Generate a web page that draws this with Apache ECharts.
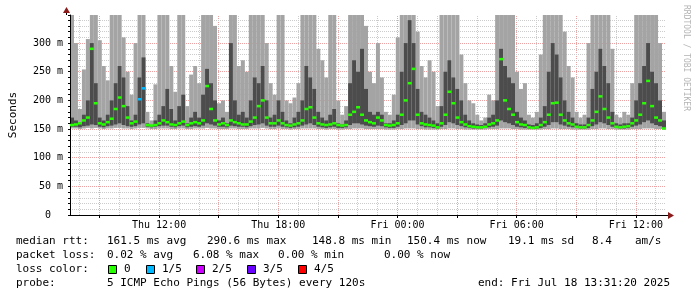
<!DOCTYPE html>
<html><head><meta charset="utf-8">
<script src="https://cdn.jsdelivr.net/npm/echarts@6/dist/echarts.min.js"></script>
<style>html,body{margin:0;padding:0;background:#fff}#c{width:697px;height:297px}</style>
</head><body><div id="c"></div>
<script>
// time axis: minutes since Thu 00:00
const startMinute = 451;       // ~Thu 07:31
const endMinute = 2251;        // Fri 13:31:20
const stepMinutes = 12;
const tickTimes = [720, 1080, 1440, 1800, 2160];
const tickLabels = ['Thu 12:00', 'Thu 18:00', 'Fri 00:00', 'Fri 06:00', 'Fri 12:00'];
const yLabelValues = [0, 50, 100, 150, 200, 250, 300];

// ping smoke (ms): min, 2nd, 4th, max ping per interval
const minPing = [151,151,150,151,152,151,152,151,150,151, 151,152,152,151,151,150,151,152,152,151,
  150,150,151,151,151,150,150,151,151,150, 150,151,151,151,152,151,151,150,150,150,
  151,151,150,150,150,151,151,151,152,151, 150,150,151,150,150,149,150,150,151,151,
  151,151,150,150,149,150,150,149,149,150, 150,151,151,151,150,150,150,150,150,149,
  149,149,150,150,151,151,151,150,150,149, 149,149,149,150,150,151,151,150,150,149,
  149,149,149,149,149,150,150,150,151,151, 151,150,150,149,149,149,149,149,149,150,
  150,151,151,150,150,150,149,149,149,149, 149,150,150,151,151,150,150,149,149,149,
  149,150,150,150,151,151,151,150,150,149];
const ping2 = [154,154,153,155,156,158,157,154,153,155, 156,158,160,157,155,154,155,158,160,154,
  153,154,155,156,156,154,153,155,156,153, 154,155,154,156,160,158,156,154,154,153,
  156,155,154,154,153,155,157,158,160,156, 154,154,156,154,153,152,153,154,156,158,
  160,157,154,153,152,153,154,152,152,153, 157,160,160,158,156,155,154,156,155,153,
  152,152,154,157,160,165,165,158,155,153, 153,152,151,154,157,162,160,157,155,153,
  152,151,151,151,152,153,154,156,165,162, 160,157,154,153,152,151,151,151,152,154,
  157,162,162,158,156,154,153,152,151,151, 152,155,158,162,160,157,154,152,151,151,
  152,154,156,158,162,165,160,157,155,150];
const ping4 = [170,165,160,175,200,300,230,170,165,175, 200,230,260,240,190,165,175,240,275,160,
  157,165,175,190,220,185,165,190,210,160, 170,180,170,210,255,230,200,165,170,160,
  300,200,175,180,170,200,240,230,260,200, 170,175,200,180,165,160,170,180,200,260,
  240,220,180,170,165,175,185,160,158,165, 230,270,250,290,220,180,175,180,175,160,
  160,165,175,250,300,340,300,220,180,175, 170,165,160,190,250,270,240,220,200,175,
  165,160,158,157,160,170,175,200,290,260, 240,230,180,170,165,158,157,160,170,190,
  250,300,280,240,200,180,170,160,158,158, 170,220,250,290,260,230,180,160,158,160,
  160,170,200,230,260,300,250,230,200,165];
const maxPing = [349,300,185,254,307,349,349,305,260,235, 349,349,349,310,250,210,300,349,349,180,
  165,228,349,349,349,260,215,349,349,190, 245,260,230,349,349,349,330,195,200,180,
  349,349,260,270,250,349,349,349,349,300, 230,210,349,349,200,195,205,230,349,349,
  349,349,290,270,240,349,349,200,175,190, 349,349,349,349,330,250,230,300,240,180,
  175,210,310,349,349,349,349,320,260,240, 270,250,190,349,349,349,349,349,280,230,
  200,195,175,165,170,210,200,349,349,349, 349,349,250,220,230,175,170,180,280,349,
  349,349,349,349,320,260,240,180,170,175, 300,349,349,349,349,349,290,175,170,180,
  175,230,349,349,349,349,349,349,300,180];
// median rtt (ms) and lost pings (of 5) per interval
const medianRtt = [157,158,160,165,170,290,195,160,158,162, 168,185,205,190,170,160,163,202,221,157,
  156,157,160,165,162,158,157,160,163,157, 160,162,160,165,225,185,165,158,160,157,
  165,162,160,158,158,163,170,190,200,170, 160,160,165,160,157,156,158,160,165,185,
  188,170,160,158,157,158,160,157,156,157, 175,180,188,175,165,162,160,170,165,157,
  156,157,160,175,200,230,255,175,160,158, 157,156,153,160,175,215,195,170,162,158,
  155,154,153,153,154,158,160,165,272,200, 185,175,162,158,157,153,152,153,157,162,
  175,195,196,175,165,160,158,154,153,153, 157,165,180,207,185,170,160,154,153,154,
  155,160,165,175,195,234,190,170,165,151];
const lostPings = [0,0,0,0,0,0,0,0,0,0, 0,0,0,0,0,0,0,1,1,0,
  0,0,0,0,0,0,0,0,0,0, 0,0,0,0,0,0,0,0,0,0, 0,0,0,0,0,0,0,0,0,0, 0,0,0,0,0,0,0,0,0,0,
  0,0,0,0,0,0,0,0,0,0, 0,0,0,0,0,0,0,0,0,0, 0,0,0,0,0,0,0,0,0,0, 0,0,0,0,0,0,0,0,0,0,
  0,0,0,0,0,0,0,0,0,0, 0,0,0,0,0,0,0,0,0,0, 0,0,0,0,0,0,0,0,0,0, 0,0,0,0,0,0,0,0,0,0,
  0,0,0,0,0,0,0,0,0,0];
const lossColors = ['#26ff00', '#00b8ff', '#cc00ff', '#6a00ff', '#ff0000'];
const lossLabels = ['0', '1/5', '2/5', '3/5', '4/5'];

const lightSmoke = '#a4a4a4', darkSmoke = '#4c4c4c';
const medHalf = 2.2;
const mono = 'DejaVu Sans Mono';

const smokeRows = minPing.map((v, i) => [startMinute + i * stepMinutes, v, ping2[i], ping4[i], maxPing[i]]);
const medRows = medianRtt.map((v, i) => [startMinute + i * stepMinutes, v, lostPings[i]]);

// grid lines (under the smoke)
const gridLines = [];
for (let m = 480; m < endMinute; m += 60) {
  gridLines.push({xAxis: m, lineStyle: {color: m % 180 === 0 ? '#eaa2a2' : '#cccccc', type: [1, 1], width: 1}});
}
for (let v = 10; v < 349; v += 10) {
  gridLines.push({yAxis: v, lineStyle: {color: v % 50 === 0 ? '#eaa2a2' : '#cccccc', type: [1, 1], width: 1}});
}
const majorTickTimes = [];
for (let m = 540; m < endMinute; m += 180) majorTickTimes.push(m);

function txt(text, x, y, extra) {
  return Object.assign({type: 'text', x: x, y: y, silent: true,
    style: Object.assign({text: text, fontFamily: mono, fontSize: 11, fill: '#000',
      textVerticalAlign: 'middle', verticalAlign: 'middle'}, extra || {})});
}
const g = [];
const line1 = [['median rtt:', 16], ['161.5 ms avg', 107], ['290.6 ms max', 207], ['148.8 ms min', 312],
  ['150.4 ms now', 407], ['19.1 ms sd', 508], ['8.4', 592], ['am/s', 635]];
const line2 = [['packet loss:', 16], ['0.02 % avg', 107], ['6.08 % max', 193], ['0.00 % min', 278], ['0.00 % now', 384]];
const line4 = [['probe:', 16], ['5 ICMP Echo Pings (56 Bytes) every 120s', 107], ['end: Fri Jul 18 13:31:20 2025', 478]];
line1.forEach(s => g.push(txt(s[0], s[1], 241)));
line2.forEach(s => g.push(txt(s[0], s[1], 255)));
g.push(txt('loss color:', 16, 269));
const boxX = [108, 146, 196, 247, 298];
lossLabels.forEach((l, i) => {
  g.push({type: 'rect', shape: {x: boxX[i] + 0.5, y: 265.5, width: 8, height: 8}, silent: true,
    style: {fill: lossColors[i], stroke: '#000', lineWidth: 1}});
  g.push(txt(l, boxX[i] + 16, 269));
});
line4.forEach(s => g.push(txt(s[0], s[1], 283)));
g.push(txt('RRDTOOL / TOBI OETIKER', 686, 5, {fontSize: 8, fill: '#b4b4b4', textAlign: 'left', align: 'left'}));
g[g.length - 1].rotation = -Math.PI / 2;
// axis arrows
g.push({type: 'line', shape: {x1: 666, y1: 215.5, x2: 670, y2: 215.5}, style: {stroke: '#000', lineWidth: 1}, silent: true});
g.push({type: 'line', shape: {x1: 66.5, y1: 15, x2: 66.5, y2: 11}, style: {stroke: '#000', lineWidth: 1}, silent: true});
g.push({type: 'polygon', shape: {points: [[668, 212], [668, 219], [674, 215.5]]}, style: {fill: '#8b1a1a'}, silent: true});
g.push({type: 'polygon', shape: {points: [[63, 13], [70, 13], [66.5, 7]]}, style: {fill: '#8b1a1a'}, silent: true});

const chart = echarts.init(document.getElementById('c'), null, {renderer: 'canvas'});
chart.setOption({
  animation: false,
  backgroundColor: '#ffffff',
  grid: {left: 66, right: 31, top: 15, bottom: 82, containLabel: false},
  xAxis: {
    type: 'value', min: startMinute, max: endMinute, z: 6,
    axisLine: {lineStyle: {color: '#000', width: 1}},
    axisTick: {show: true, customValues: majorTickTimes, length: 3, lineStyle: {color: '#000'}},
    axisLabel: {customValues: tickTimes, formatter: v => {const k = tickTimes.indexOf(v); return k >= 0 ? tickLabels[k] : '';},
      fontFamily: mono, fontSize: 10, color: '#000', margin: 5},
    splitLine: {show: false}
  },
  yAxis: {
    type: 'value', min: 0, max: 349, interval: 10, z: 6,
    name: 'Seconds', nameLocation: 'middle', nameRotate: 90, nameGap: 51,
    nameTextStyle: {fontFamily: mono, fontSize: 11, color: '#000'},
    axisLine: {show: true, lineStyle: {color: '#000', width: 1}},
    axisTick: {show: true, length: 2, lineStyle: {color: '#000'}},
    axisLabel: {formatter: v => yLabelValues.indexOf(v) >= 0 ? (v === 0 ? '0  ' : v + ' m') : '',
      fontFamily: mono, fontSize: 10, color: '#000', margin: 7},
    splitLine: {show: false}
  },
  series: [
    {
      type: 'line', name: 'grid', z: 1, data: [], silent: true,
      markLine: {silent: true, symbol: 'none', label: {show: false}, animation: false, z: 1, data: gridLines}
    },
    {
      type: 'custom', name: 'smoke', z: 3,
      data: smokeRows, encode: {x: 0, y: [1, 4]},
      renderItem: function (params, api) {
        const t = api.value(0);
        const a = api.coord([t, api.value(4)]);
        const b = api.coord([t + stepMinutes, api.value(1)]);
        const c = api.coord([t, api.value(3)]);
        const d = api.coord([t + stepMinutes, api.value(2)]);
        return {type: 'group', children: [
          {type: 'rect', shape: {x: a[0], y: a[1], width: b[0] - a[0], height: b[1] - a[1]}, style: {fill: lightSmoke}},
          {type: 'rect', shape: {x: c[0], y: c[1], width: d[0] - c[0], height: d[1] - c[1]}, style: {fill: darkSmoke}}
        ]};
      }
    },
    {
      type: 'custom', name: 'median rtt', z: 7,
      data: medRows, encode: {x: 0, y: 1},
      renderItem: function (params, api) {
        const t = api.value(0), m = api.value(1);
        const a = api.coord([t, m + medHalf]);
        const b = api.coord([t + stepMinutes, m - medHalf]);
        return {type: 'rect', shape: {x: a[0], y: a[1], width: b[0] - a[0], height: b[1] - a[1]},
          style: {fill: lossColors[api.value(2)]}};
      }
    }
  ],
  graphic: g
});
</script></body></html>
